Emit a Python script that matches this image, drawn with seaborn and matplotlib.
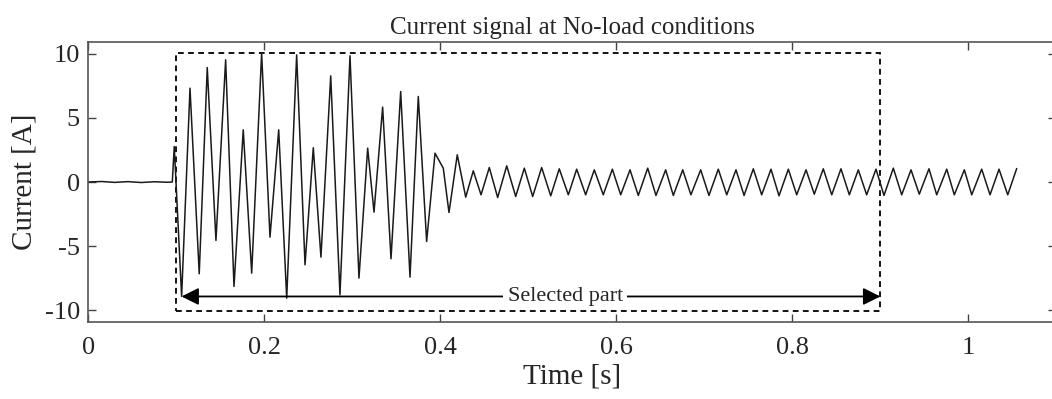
import numpy as np
import pandas as pd
import matplotlib
matplotlib.use("Agg")
import matplotlib.pyplot as plt
import matplotlib.patches as patches
import seaborn as sns

# flat part before the start
t_flat = [0.0, 0.015, 0.03, 0.045, 0.06, 0.075, 0.09, 0.0955]
i_flat = [0.0, 0.04, -0.03, 0.03, -0.04, 0.02, -0.02, 0.0]

# start-up transient, extrema
t_trans = [0.0977, 0.1061, 0.1156, 0.1261, 0.1352, 0.1451, 0.1561, 0.1656,
           0.1761, 0.1857, 0.1970, 0.2065, 0.2164, 0.2255, 0.2368, 0.2463,
           0.2557, 0.2644, 0.2755, 0.2860, 0.2974, 0.3076, 0.3175, 0.3247,
           0.3345, 0.3440, 0.3550, 0.3656, 0.3750, 0.3845, 0.3940, 0.4034,
           0.4099, 0.4193, 0.4289, 0.4375, 0.4463]
i_trans = [2.77, -8.93, 7.32, -7.16, 8.93, -4.56, 9.53, -8.15,
           4.07, -7.11, 10.05, -4.30, 4.07, -9.06, 9.92, -6.46,
           2.67, -5.86, 8.28, -8.80, 9.85, -7.50, 2.64, -2.35,
           5.84, -5.99, 7.06, -7.42, 6.67, -4.64, 2.25, 1.08,
           -2.38, 2.12, -1.18, 0.87, -1.00]

# steady no-load oscillation: peaks and troughs
t_peak = [0.4557, 0.4755, 0.4955, 0.5152, 0.5352, 0.5550, 0.5750, 0.5955,
          0.6156, 0.6357, 0.6561, 0.6755, 0.6959, 0.7159, 0.7360, 0.7557,
          0.7758, 0.7955, 0.8156, 0.8352, 0.8553, 0.8750, 0.8951, 0.9148,
          0.9349, 0.9553, 0.9755, 0.9955, 1.0152, 1.0349]
i_peak = [1.13, 1.26, 1.08, 1.13, 1.03, 1.00, 0.95, 1.00,
          0.95, 1.08, 0.95, 0.95, 0.95, 1.00, 0.95, 1.03,
          1.00, 1.00, 0.95, 1.03, 1.03, 0.95, 1.00, 1.08,
          0.95, 1.03, 1.00, 0.95, 1.00, 1.00]
t_trough = [0.4652, 0.4857, 0.5050, 0.5255, 0.5455, 0.5652, 0.5852, 0.6050,
            0.6250, 0.6451, 0.6648, 0.6848, 0.7053, 0.7255, 0.7452, 0.7652,
            0.7849, 0.8050, 0.8250, 0.8448, 0.8648, 0.8845, 0.9042, 0.9243,
            0.9443, 0.9641, 0.9841, 1.0039, 1.0247, 1.0448]
i_trough = [-1.21, -1.13, -1.13, -1.08, -1.00, -1.00, -1.00, -1.00,
            -1.05, -1.05, -1.05, -1.00, -1.05, -1.00, -1.05, -1.00,
            -1.08, -1.00, -0.95, -1.00, -1.00, -1.00, -1.05, -1.00,
            -0.95, -1.00, -1.00, -1.00, -1.00, -1.00]
t_end = [1.055]
i_end = [1.05]

steady = pd.DataFrame({"t": t_peak + t_trough + t_end,
                       "i": i_peak + i_trough + i_end}).sort_values("t")
df = pd.concat([pd.DataFrame({"t": t_flat, "i": i_flat}),
                pd.DataFrame({"t": t_trans, "i": i_trans}),
                steady], ignore_index=True)

sns.set_style("ticks")
plt.rcParams["font.family"] = ["Liberation Serif", "DejaVu Serif"]
plt.rcParams["axes.unicode_minus"] = False

fig = plt.figure(figsize=(10.52, 3.99), dpi=100)
ax = fig.add_axes([0.0839, 0.1937, 0.9202, 0.7003])

sns.lineplot(data=df, x="t", y="i", ax=ax, sort=False, estimator=None,
             color="#1a1a1a", linewidth=1.1)

# selection box
rect = patches.Rectangle((0.1, -10.1), 0.8, 20.2, fill=False, edgecolor="black",
                         linewidth=1.3, linestyle=(0, (3.2, 2.4)))
ax.add_patch(rect)
ax.annotate("", xy=(0.106, -8.93), xytext=(0.9, -8.93),
            arrowprops=dict(arrowstyle="<|-|>", color="black", lw=1.3,
                            mutation_scale=26, shrinkA=0, shrinkB=0))
ax.text(0.542, -8.93, "Selected part", ha="center", va="center", fontsize=16,
        bbox=dict(facecolor="white", edgecolor="none", pad=3))

ax.set_xlim(0, 1.1)
ax.set_ylim(-10.9, 10.9)
ax.set_xticks([0, 0.2, 0.4, 0.6, 0.8, 1])
ax.set_xticklabels(["0", "0.2", "0.4", "0.6", "0.8", "1"])
ax.set_yticks([-10, -5, 0, 5, 10])
ax.tick_params(direction="in", top=True, right=True, length=6, width=1,
               color="#444444", labelsize=19)
ax.tick_params(axis="x", pad=11)
ax.tick_params(axis="y", pad=6)
for s in ax.spines.values():
    s.set_color("#555555")
    s.set_linewidth(1.2)

ax.set_xlabel("Time [s]", fontsize=21, labelpad=3)
ax.set_ylabel("Current [A]", fontsize=21, labelpad=5)
ax.set_title("Current signal at No-load conditions", fontsize=18, pad=6)

fig.savefig("out.png", dpi=100)
